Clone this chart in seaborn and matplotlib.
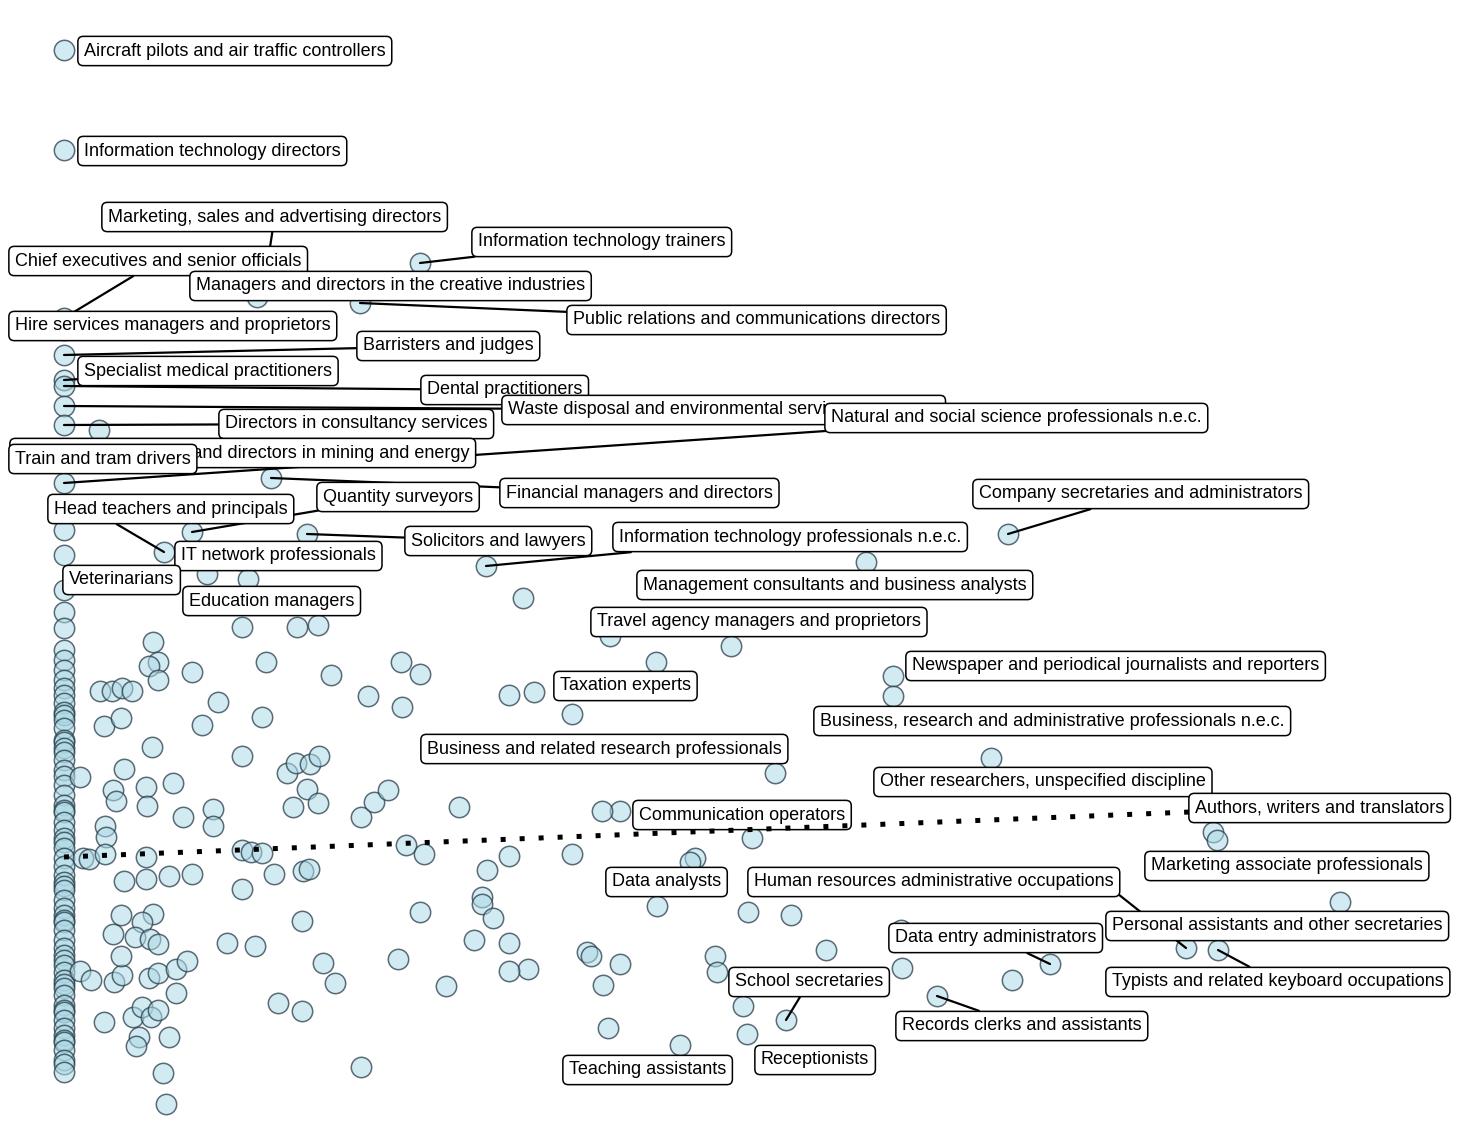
import matplotlib
matplotlib.use("Agg")
import matplotlib.pyplot as plt
import seaborn as sns
import numpy as np

# labelled occupations: point and where the label box sits
labels = [
    "Aircraft pilots and air traffic controllers",
    "Information technology directors",
    "Marketing, sales and advertising directors",
    "Information technology trainers",
    "Chief executives and senior officials",
    "Managers and directors in the creative industries",
    "Public relations and communications directors",
    "Hire services managers and proprietors",
    "Barristers and judges",
    "Specialist medical practitioners",
    "Dental practitioners",
    "Waste disposal and environmental services managers",
    "Directors in consultancy services",
    "Natural and social science professionals n.e.c.",
    "Production managers and directors in mining and energy",
    "Train and tram drivers",
    "Financial managers and directors",
    "Quantity surveyors",
    "Head teachers and principals",
    "IT network professionals",
    "Solicitors and lawyers",
    "Information technology professionals n.e.c.",
    "Veterinarians",
    "Education managers",
    "Company secretaries and administrators",
    "Management consultants and business analysts",
    "Travel agency managers and proprietors",
    "Newspaper and periodical journalists and reporters",
    "Business, research and administrative professionals n.e.c.",
    "Taxation experts",
    "Business and related research professionals",
    "Other researchers, unspecified discipline",
    "Communication operators",
    "Authors, writers and translators",
    "Marketing associate professionals",
    "Data analysts",
    "Human resources administrative occupations",
    "Personal assistants and other secretaries",
    "Typists and related keyboard occupations",
    "Data entry administrators",
    "School secretaries",
    "Records clerks and assistants",
    "Receptionists",
    "Teaching assistants",
]
lab_x = [0, 0, 20.1, 35.6, 0, 19.3, 29.6, 0, 0, 0, 0, 0, 0, 0, 0, 0,
         20.7, 12.8, 10.0, 17.6, 24.3, 42.2, 0, 14.3, 94.4, 80.2, 54.6,
         82.9, 82.9, 50.8, 71.1, 92.7, 55.6, 114.9, 115.3, 59.3, 112.2,
         127.6, 115.4, 98.6, 72.2, 87.3, 68.3, 61.6]
lab_y = [105, 95, 82, 83.7, 78.2, 80.3, 79.7, 77, 74.5, 72, 71.4, 69.4,
         67.5, 61.7, 64.5, 63.8, 62.2, 56.8, 54.8, 54, 56.6, 53.4, 51,
         52.6, 56.6, 53.8, 46.4, 42.4, 40.4, 38.6, 32.7, 34.2, 28.9, 26.8,
         26, 19.4, 15.2, 19.8, 15, 13.6, 8, 10.4, 6.6, 5.5]
text_x = [2.0, 2.0, 4.4, 41.4, -4.9, 13.2, 50.9, -4.9, 29.9, 2.0, 36.3,
          44.4, 16.1, 76.7, -4.8, -4.9, 44.2, 25.9, -1.0, 11.7, 34.7, 55.5,
          0.5, 12.5, 91.5, 57.9, 53.3, 84.8, 75.6, 49.6, 36.3, 81.6, 57.5,
          113.1, 108.7, 54.8, 69.0, 104.8, 104.8, 83.1, 67.1, 83.8, 69.7,
          50.5]
text_y = [104.9, 94.9, 88.3, 85.8, 83.9, 81.4, 78.0, 77.4, 75.4, 72.9,
          71.0, 69.0, 67.6, 68.2, 64.7, 64.1, 60.7, 60.3, 59.1, 54.4, 55.9,
          56.3, 52.0, 49.9, 60.6, 51.5, 47.8, 43.4, 37.9, 41.4, 35.1, 31.8,
          28.5, 29.2, 23.4, 21.8, 21.8, 17.4, 11.8, 16.2, 11.8, 7.4, 4.0,
          3.0]

# unlabelled occupations sitting on x = 0
col_y = [57, 54.5, 48.8, 47.2, 45, 44, 43, 42, 41.2, 40.5, 39.7, 38.8, 38.5,
         38, 37.2, 36, 35.8, 35.2, 34.8, 34, 33, 32.4, 31.5, 30.5, 29.5, 29,
         28.8, 27.8, 27, 26.2, 25.8, 25.2, 24.2, 23.4, 22.5, 21.8, 21.4, 21,
         20, 19.2, 18.5, 18, 17.8, 17, 16, 15.2, 14.5, 14, 13.5, 12.8, 12,
         11.6, 11.2, 10.5, 9.5, 9, 8.8, 8, 7.2, 6.5, 6, 5.8, 5, 4, 3.6, 2.8]

# other unlabelled occupations
other_x = [3.5, 18.4, 45.9, 59.2, 66.7, 44.5, 47.0, 53.8, 68.8, 63.1, 62.6,
           44.5, 50.8, 68.4, 72.7, 76.2, 65.1, 65.3, 52.3, 52.7, 55.6, 53.9,
           44.5, 46.4, 44.5, 67.9, 54.4, 83.7, 83.8, 94.8, 42.3, 41.8, 41.8,
           42.9, 41.0, 38.2, 39.5, 35.6, 33.4, 29.7,
           17.8, 23.3, 25.4, 8.9, 9.4, 8.5, 9.4, 12.8, 20.2, 26.7, 33.7, 35.6,
           30.4, 33.8, 3.6, 4.8, 5.8, 6.8, 15.4, 19.8, 13.8, 4.0, 5.7, 8.8,
           17.8, 22.3, 23.2, 24.6, 25.5, 6.0, 1.6, 10.9, 8.2, 4.9, 5.2, 8.3,
           11.9, 14.9, 14.9, 24.3, 22.9, 25.4, 29.7, 31.0, 32.4, 4.1, 4.2,
           1.9, 2.5, 4.1, 8.2, 17.8, 18.7, 19.8, 34.2, 36.0, 6.0, 8.2, 10.5,
           12.8, 17.8, 21.0, 23.9, 24.5, 23.8, 5.7, 8.9, 7.8, 4.9, 7.1, 8.6,
           9.4, 16.3, 19.1, 1.6, 2.7, 5.0, 5.8, 8.5, 9.4, 11.2, 12.3, 25.9,
           27.1, 5.7, 11.2, 4.0, 6.9, 7.8, 8.7, 9.4, 7.5, 7.2, 10.5, 9.9,
           10.2, 21.4, 23.8]
other_y = [67, 52.1, 50.2, 43.8, 45.4, 40.5, 40.8, 28.9, 26.2, 24.2, 23.8,
           24.4, 24.6, 18.8, 18.5, 15, 14.4, 12.8, 14.8, 14.4, 13.6, 11.5,
           15.7, 13.1, 12.9, 9.4, 7.2, 17, 13.2, 12, 23, 20.3, 19.6, 18.2,
           16, 11.4, 29.3, 18.8, 14.1, 3.3,
           47.3, 47.3, 47.5, 45.8, 43.8, 43.4, 42, 42.8, 43.8, 42.5, 43.8,
           42.6, 40.4, 39.3, 40.9, 40.9, 41.2, 40.9, 39.8, 38.3, 37.5, 37.4,
           38.2, 35.3, 34.4, 32.7, 33.7, 33.6, 34.4, 33.1, 32.3, 31.7, 31.3,
           31, 29.9, 29.4, 28.3, 29.1, 27.4, 31.1, 29.3, 29.7, 28.3, 29.8, 31,
           27.4, 26.3, 24.2, 24.1, 24.6, 24.3, 25, 24.8, 24.7, 25.5, 24.6,
           21.9, 22.1, 22.4, 22.6, 21.1, 22.6, 22.9, 23.1, 17.9, 18.5, 18.6,
           17.8, 16.6, 16.3, 16.1, 15.6, 15.7, 15.4, 12.9, 12, 11.8, 12.5,
           12.2, 12.7, 13.1, 13.9, 13.7, 11.7, 14.4, 10.7, 7.8, 8.3, 9.3, 8.3,
           9, 6.3, 5.4, 6.3, 2.7, -0.4, 9.7, 8.9]

# fitted trend line end points
trend_x = [0, 112.6]
trend_y = [24.3, 28.8]

# labels that get a connecting segment (the rest sit right next to their point)
with_segment = {
    "Marketing, sales and advertising directors",
    "Information technology trainers",
    "Chief executives and senior officials",
    "Public relations and communications directors",
    "Barristers and judges",
    "Specialist medical practitioners",
    "Dental practitioners",
    "Waste disposal and environmental services managers",
    "Directors in consultancy services",
    "Natural and social science professionals n.e.c.",
    "Financial managers and directors",
    "Quantity surveyors",
    "Head teachers and principals",
    "Solicitors and lawyers",
    "Information technology professionals n.e.c.",
    "Company secretaries and administrators",
    "Human resources administrative occupations",
    "Typists and related keyboard occupations",
    "Data entry administrators",
    "School secretaries",
    "Records clerks and assistants",
}
# where the segment leaves the box, if not from the middle
seg_start = {
    "Human resources administrative occupations": (1.0, 0.0),
    "Head teachers and principals": (0.22, 0.0),
}

all_x = list(lab_x) + [0] * len(col_y) + other_x
all_y = list(lab_y) + col_y + other_y

sns.set_theme(style="white")
plt.rcParams["font.family"] = ["Liberation Sans", "DejaVu Sans"]

fig = plt.figure(figsize=(14.71, 11.36), dpi=100)
ax = fig.add_axes([0, 0, 1, 1])

sns.scatterplot(x=all_x, y=all_y, ax=ax, s=215,
                color=(0.68, 0.85, 0.90, 0.55),
                edgecolor=(0.16, 0.24, 0.29, 0.75), linewidth=1.1, zorder=2)

for name, px, py, tx, ty in zip(labels, lab_x, lab_y, text_x, text_y):
    arrow = None
    if name in with_segment:
        arrow = dict(arrowstyle="-", color="black", lw=1.6,
                     shrinkA=0, shrinkB=0,
                     relpos=seg_start.get(name, (0.5, 0.5)))
    ax.annotate(name, xy=(px, py), xytext=(tx, ty), textcoords="data",
                ha="left", va="center", fontsize=13, color="black",
                bbox=dict(boxstyle="round,pad=0.34,rounding_size=0.3",
                          fc="white", ec="black", lw=1.1),
                arrowprops=arrow, zorder=3)

sns.lineplot(x=trend_x, y=trend_y, ax=ax, color="black", lw=3.6,
             zorder=5)
ax.lines[-1].set_dashes((1, 2.8))
ax.lines[-1].set_dash_capstyle("butt")

ax.set_xlim(-6.4, 140.7)
ax.set_ylim(-3.6, 110)
ax.axis("off")

fig.savefig("out.png", dpi=100)
